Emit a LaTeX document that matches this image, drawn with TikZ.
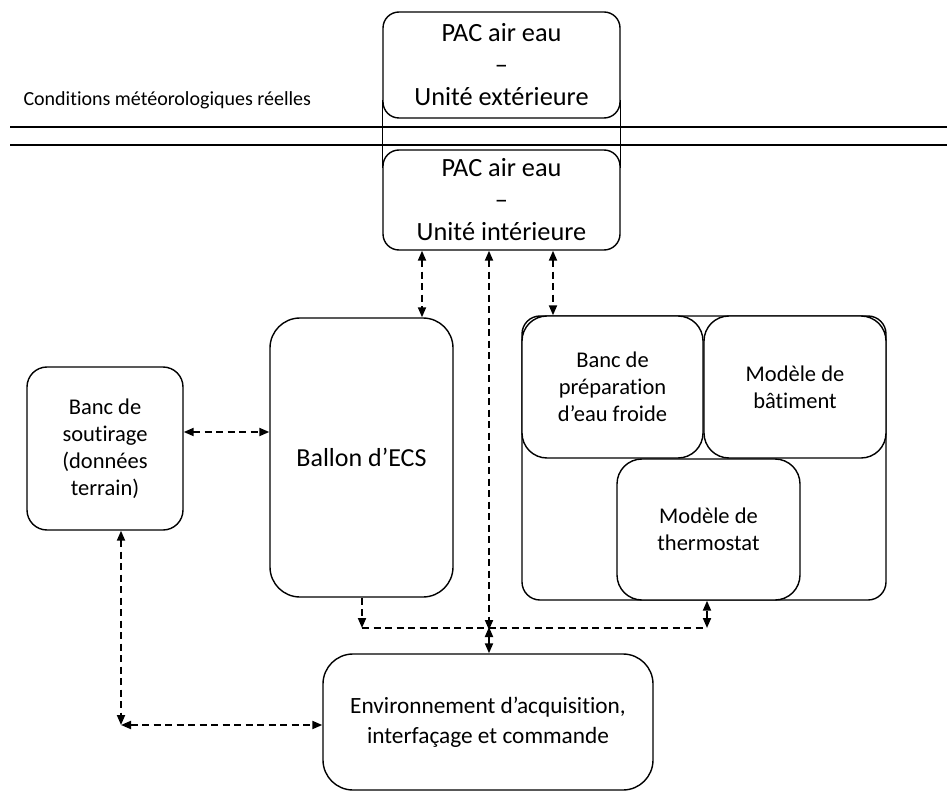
\documentclass[tikz,border=0pt]{standalone}
\usepackage{fontspec}
\setmainfont{Carlito}[Ligatures=NoCommon]
\usetikzlibrary{arrows.meta}
\begin{document}
\begin{tikzpicture}[x=1pt,y=-1pt,
  box/.style={draw=black,line width=1.4pt,fill=white,align=center,inner sep=0pt},
  big/.style={font=\fontsize{26.3}{32}\selectfont},
  mid/.style={font=\fontsize{22.5}{27}\selectfont},
  dl/.style={line width=1.9pt,dash pattern=on 7pt off 4.5pt,
    {Triangle[length=10pt,width=8pt]}-{Triangle[length=10pt,width=8pt]}},
  dr/.style={line width=1.9pt,dash pattern=on 7pt off 4.5pt,-{Triangle[length=10pt,width=8pt]}},
  dn/.style={line width=1.9pt,dash pattern=on 7pt off 4.5pt}]
\useasboundingbox (0,0) rectangle (947,794);
% ground lines
\draw[line width=2pt] (10,127) -- (947,127);
\draw[line width=2pt] (10,145) -- (947,145);
\node[anchor=west,font=\fontsize{20}{22}\selectfont] (cond) at (20,100) {Conditions météorologiques réelles};
% PAC boxes
\node[box,big,rounded corners=16pt,minimum width=237,minimum height=106] (top) at (501.5,65) {PAC air eau\\–\\Unité extérieure};
\node[box,big,rounded corners=16pt,minimum width=237,minimum height=100] (bot) at (501.5,200) {PAC air eau\\–\\Unité intérieure};
\draw[line width=1.4pt] (top.west |- 0,100) -- (bot.west |- 0,168);
\draw[line width=1.4pt] (top.east |- 0,100) -- (bot.east |- 0,168);
% Ballon
\node[box,font=\fontsize{26}{32}\selectfont,rounded corners=30pt,minimum width=183,minimum height=279] (ballon) at (361.5,457.5) {Ballon d’ECS};
% big right box
\node[box,rounded corners=18pt,minimum width=364,minimum height=284] (grp) at (704,458) {};
\node[box,mid,rounded corners=25pt,minimum width=181,minimum height=142] (prep) at (612.5,387) {Banc de\\préparation\\d’eau froide};
\node[box,mid,rounded corners=25pt,minimum width=182,minimum height=142] (bat) at (795,387) {Modèle de\\bâtiment};
\node[box,mid,rounded corners=25pt,minimum width=183,minimum height=141] (thermo) at (708.5,529.5) {Modèle de\\thermostat};
% soutirage
\node[box,mid,rounded corners=20pt,minimum width=156,minimum height=163] (sout) at (105,448.5) {Banc de\\soutirage\\(données\\terrain)};
% env
\node[box,font=\fontsize{23.3}{30}\selectfont,rounded corners=30pt,minimum width=330,minimum height=136] (env) at (488,722) {Environnement d’acquisition,\\interfaçage et commande};
% coordinates
\coordinate (xa) at (422,0);
\coordinate (xc) at (553,0);
\coordinate (busL) at (362,628);
\coordinate (busM) at (489,628);
\coordinate (busR) at (707,628);
\coordinate (ys) at (0,432);
\coordinate (corner) at (121,725);
% connectors
\draw[dl] (bot.south -| xa) -- (ballon.north -| xa);
\draw[dl] (bot.south -| xc) -- (grp.north -| xc);
\draw[dl] (bot.south -| busM) -- ([yshift=-2]busM);
\draw[dl] ([yshift=1]busM) -- (env.north -| busM);
\draw[dr] (ballon.south -| busL) -- (busL);
\draw[dn] (busL) -- (busR);
\draw[dl] (busR) -- (grp.south -| busR);
\draw[dl] (sout.east |- ys) -- (ballon.west |- ys);
\draw[dl] (sout.south -| corner) -- (corner);
\draw[dl] (corner) -- (env.west |- corner);
\end{tikzpicture}
\end{document}
